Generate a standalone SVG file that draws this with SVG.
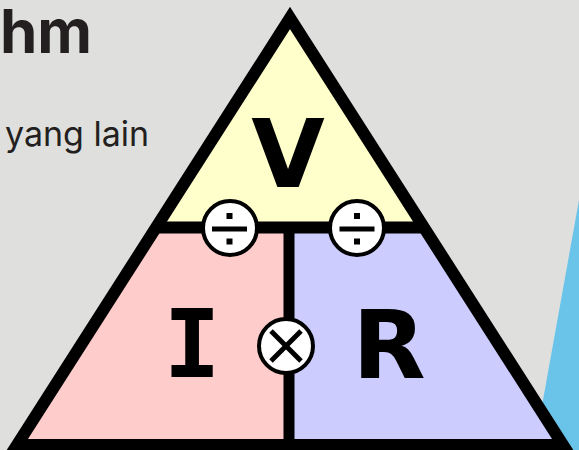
<svg xmlns="http://www.w3.org/2000/svg" width="579" height="450" viewBox="0 0 579 450">
  <style>
    .title { font-family: Inter, "Noto Sans", sans-serif; font-weight: 700; fill: #231f20; }
    .sub { font-family: Inter, "Noto Sans", sans-serif; font-weight: 400; fill: #231f20; }
    .letter { font-family: "DejaVu Sans", sans-serif; font-weight: 700; fill: #000; text-anchor: middle; }
    .mono { font-family: "DejaVu Sans Mono", monospace; font-weight: 700; fill: #000; text-anchor: middle; }
    .edge { fill: none; stroke: #000; stroke-width: 12; stroke-linejoin: miter; }
    .op circle { fill: #fff; stroke: #000; stroke-width: 4; }
    .sym { stroke: #000; stroke-width: 5; fill: none; }
  </style>
  <rect x="0" y="0" width="579" height="450" fill="#dfe0de"/>
  <polygon points="579,200 534,450 579,450" fill="#6ac4ea"/>
  <text class="title" x="0" y="53" font-size="60">hm</text>
  <text class="sub" x="5" y="146" font-size="34">yang lain</text>

  <g id="node-V">
    <polygon points="290,18 156,227.5 424,227.5" fill="#ffffcc"/>
    <text class="letter" x="288" y="187" font-size="95">V</text>
  </g>
  <g id="node-I">
    <polygon points="156,227.5 289,227.5 289,445 17,445" fill="#ffcccc"/>
    <text class="mono" x="192" y="377" font-size="95">I</text>
  </g>
  <g id="node-R">
    <polygon points="289,227.5 424,227.5 563,445 289,445" fill="#ccccff"/>
    <text class="letter" x="389" y="378" font-size="95">R</text>
  </g>

  <g id="connectors">
    <polygon class="edge" points="290,18 563,445 17,445"/>
    <line x1="156" y1="227.5" x2="424" y2="227.5" stroke="#000" stroke-width="12"/>
    <line x1="289" y1="227.5" x2="289" y2="445" stroke="#000" stroke-width="11"/>
  </g>

  <g id="op-div-left" class="op">
    <circle cx="230" cy="228" r="27"/>
    <line class="sym" x1="212" y1="229" x2="247" y2="229"/>
    <rect x="226.5" y="213" width="6" height="6"/>
    <rect x="226.5" y="238.5" width="6" height="6"/>
  </g>
  <g id="op-div-right" class="op">
    <circle cx="357" cy="228" r="27"/>
    <line class="sym" x1="339.5" y1="229" x2="374.5" y2="229"/>
    <rect x="354" y="213" width="6" height="6"/>
    <rect x="354" y="238.5" width="6" height="6"/>
  </g>
  <g id="op-mul" class="op">
    <circle cx="286" cy="346" r="27"/>
    <line class="sym" x1="271" y1="331" x2="301" y2="361"/>
    <line class="sym" x1="301" y1="331" x2="271" y2="361"/>
  </g>
</svg>
